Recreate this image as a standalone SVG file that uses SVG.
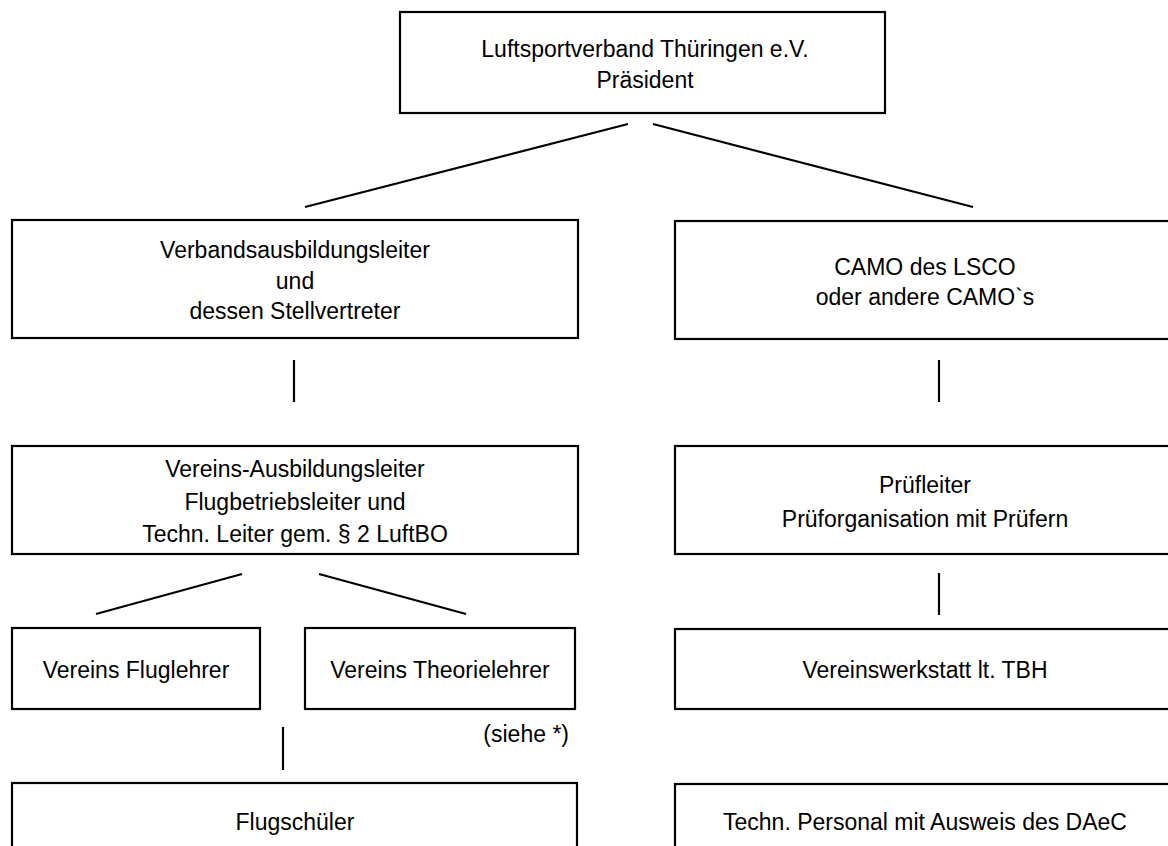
<svg xmlns="http://www.w3.org/2000/svg" width="1168" height="846" viewBox="0 0 1168 846">
<style>
.box{fill:#fff;stroke:#000;stroke-width:2.2}
.t{font-family:"Liberation Sans",Arial,sans-serif;font-size:23px;fill:#000;text-anchor:middle}
.c{stroke:#000;stroke-width:2.2;fill:none}
</style>
<rect width="1168" height="846" fill="#fff"/>
<g id="connectors">
<line class="c" x1="628" y1="124" x2="305" y2="207"/>
<line class="c" x1="653" y1="124" x2="973" y2="207"/>
<line class="c" x1="294" y1="360" x2="294" y2="402"/>
<line class="c" x1="939" y1="360" x2="939" y2="402"/>
<line class="c" x1="242" y1="574" x2="96" y2="614"/>
<line class="c" x1="319" y1="574" x2="466" y2="614"/>
<line class="c" x1="283" y1="727" x2="283" y2="770"/>
<line class="c" x1="939" y1="573" x2="939" y2="615"/>
</g>
<g id="praesident">
<rect class="box" x="400" y="12" width="485" height="101"/>
<text class="t" x="645" y="57">Luftsportverband Thüringen e.V.</text>
<text class="t" x="645" y="88">Präsident</text>
</g>
<g id="verbandsausbildungsleiter">
<rect class="box" x="12" y="220" width="566" height="118"/>
<text class="t" x="295" y="258">Verbandsausbildungsleiter</text>
<text class="t" x="295" y="289">und</text>
<text class="t" x="295" y="319">dessen Stellvertreter</text>
</g>
<g id="camo">
<rect class="box" x="675" y="221" width="510" height="118"/>
<text class="t" x="925" y="275">CAMO des LSCO</text>
<text class="t" x="925" y="305">oder andere CAMO`s</text>
</g>
<g id="vereinsausbildungsleiter">
<rect class="box" x="12" y="446" width="566" height="108"/>
<text class="t" x="295" y="477">Vereins-Ausbildungsleiter</text>
<text class="t" x="295" y="510">Flugbetriebsleiter und</text>
<text class="t" x="295" y="542">Techn. Leiter gem. § 2 LuftBO</text>
</g>
<g id="pruefleiter">
<rect class="box" x="675" y="446" width="510" height="108"/>
<text class="t" x="925" y="493">Prüfleiter</text>
<text class="t" x="925" y="527">Prüforganisation mit Prüfern</text>
</g>
<g id="fluglehrer">
<rect class="box" x="12" y="628" width="248" height="81"/>
<text class="t" x="136" y="678">Vereins Fluglehrer</text>
</g>
<g id="theorielehrer">
<rect class="box" x="305" y="628" width="270" height="81"/>
<text class="t" x="440" y="678">Vereins Theorielehrer</text>
<text class="t" x="569" y="742" style="text-anchor:end">(siehe *)</text>
</g>
<g id="werkstatt">
<rect class="box" x="675" y="629" width="510" height="80"/>
<text class="t" x="925" y="678">Vereinswerkstatt lt. TBH</text>
</g>
<g id="flugschueler">
<rect class="box" x="12" y="783" width="565" height="90"/>
<text class="t" x="295" y="830">Flugschüler</text>
</g>
<g id="personal">
<rect class="box" x="675" y="784" width="510" height="90"/>
<text class="t" x="925" y="830">Techn. Personal mit Ausweis des DAeC</text>
</g>
</svg>
